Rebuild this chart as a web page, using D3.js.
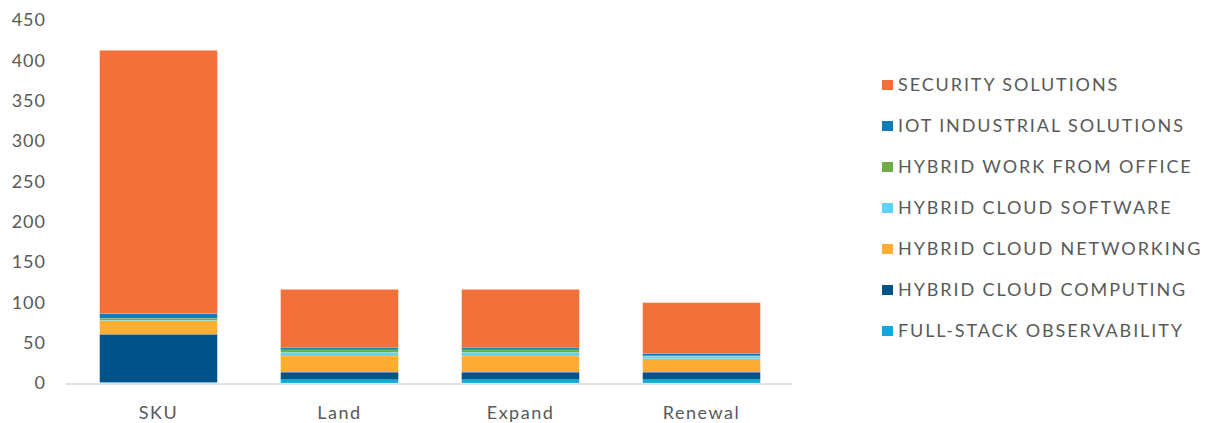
<!DOCTYPE html>
<html>
<head>
<meta charset="utf-8">
<script src="https://cdn.jsdelivr.net/npm/d3@7/dist/d3.min.js"></script>
<style>
  html, body { margin: 0; padding: 0; background: #fff; }
  svg { display: block; }
  text { font-family: Lato, "Open Sans", sans-serif; fill: #595959; }
</style>
</head>
<body>
<svg id="chart" width="1215" height="423"></svg>
<script>
const categories = ["SKU", "Land", "Expand", "Renewal"];
const seriesNames = [
  "FULL-STACK OBSERVABILITY",
  "HYBRID CLOUD COMPUTING",
  "HYBRID CLOUD NETWORKING",
  "HYBRID CLOUD SOFTWARE",
  "HYBRID WORK FROM OFFICE",
  "IOT INDUSTRIAL SOLUTIONS",
  "SECURITY SOLUTIONS"
];
const fullStack   = [1,    4,    4,    4];
const computing   = [59.5, 9.5,  9.5,  9.5];
const networking  = [16.5, 20,   20,   16.5];
const software    = [0.7,  4.5,  4.5,  3.3];
const workOffice  = [2.5,  3,    3,    0.3];
const iot         = [5.7,  2.5,  2.5,  3.2];
const security    = [326.5, 72.5, 72.5, 62.8];
const yTicks = [0, 50, 100, 150, 200, 250, 300, 350, 400, 450];
const colors = ["#14A7DF", "#02538A", "#FBAE33", "#5DD3F7", "#6FAC46", "#0F7DB9", "#F3703A"];

const seriesValues = [fullStack, computing, networking, software, workOffice, iot, security];
const rows = categories.map((c, i) => {
  const r = { cat: c };
  seriesNames.forEach((s, j) => r[s] = seriesValues[j][i]);
  return r;
});

const svg = d3.select("#chart");
const x = d3.scaleBand().domain(categories).range([68, 792]).paddingInner(0.35).paddingOuter(0.175);
const y = d3.scaleLinear().domain([0, 450]).range([383, 20]);

const stack = d3.stack().keys(seriesNames)(rows);

svg.append("g").selectAll("g").data(stack).join("g")
  .attr("fill", (d, i) => colors[i])
  .selectAll("rect").data(d => d).join("rect")
  .attr("x", d => x(d.data.cat))
  .attr("width", x.bandwidth())
  .attr("y", d => y(d[1]))
  .attr("height", d => Math.max(0, y(d[0]) - y(d[1])))
  .attr("stroke", "#ffffff")
  .attr("stroke-opacity", 0.5)
  .attr("stroke-width", 0.3);

// x axis line
svg.append("line")
  .attr("x1", 66).attr("x2", 792)
  .attr("y1", y(0) + 1).attr("y2", y(0) + 1)
  .attr("stroke", "#d9d9d9").attr("stroke-width", 1.5);

// y tick labels
svg.append("g").selectAll("text").data(yTicks).join("text")
  .attr("x", 46)
  .attr("y", d => y(d))
  .attr("dy", "0.35em")
  .attr("text-anchor", "end")
  .style("font-size", "18px")
  .style("letter-spacing", "1px")
  .text(d => d);

// x labels
svg.append("g").selectAll("text").data(categories).join("text")
  .attr("x", d => x(d) + x.bandwidth() / 2)
  .attr("y", 413)
  .attr("dy", "0.35em")
  .attr("text-anchor", "middle")
  .style("font-size", "18px")
  .style("letter-spacing", "1.5px")
  .text(d => d);

// legend (top to bottom: reversed stack order)
const legendItems = seriesNames.map((s, i) => ({ name: s, color: colors[i] })).reverse();
const lg = svg.append("g").selectAll("g").data(legendItems).join("g")
  .attr("transform", (d, i) => `translate(882, ${85 + i * 41})`);
lg.append("rect").attr("x", 0).attr("y", -5).attr("width", 11).attr("height", 10)
  .attr("fill", d => d.color);
lg.append("text").attr("x", 16).attr("y", 0).attr("dy", "0.35em")
  .style("font-size", "18px")
  .style("letter-spacing", "1.9px")
  .text(d => d.name);
</script>
</body>
</html>
